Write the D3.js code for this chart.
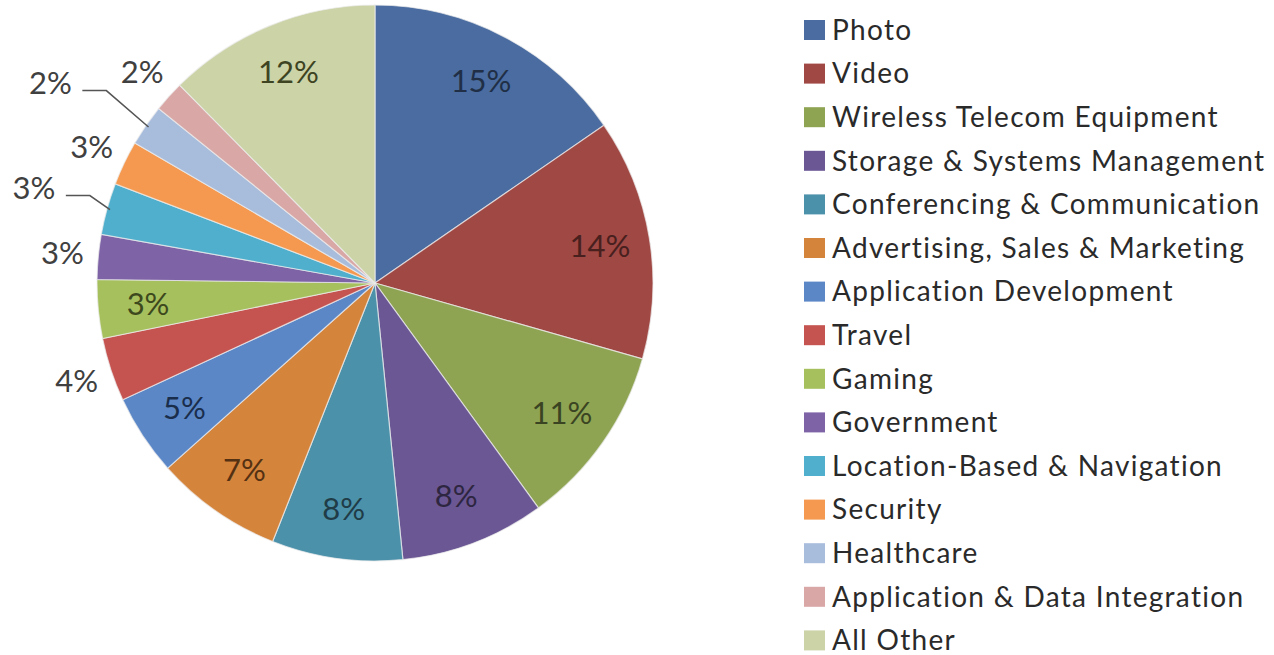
<!DOCTYPE html>
<html lang="en">
<head>
    <meta charset="UTF-8">
    <title>Apps by Category</title>
    <style>
        body { margin: 0; background: #fff; }
        .pct { font-family: Lato, sans-serif; font-size: 31px; }
        .legend-label { font-family: Lato, sans-serif; font-size: 28px; letter-spacing: 1.3px; fill: #2a2a2a; }
    </style>
</head>
<body>
    <svg width="1274" height="655"></svg>
    <script src="https://d3js.org/d3.v7.min.js"></script>
    <script>
        // categories, shares (percent) and slice colours
        const categories = [
            "Photo", "Video", "Wireless Telecom Equipment", "Storage & Systems Management",
            "Conferencing & Communication", "Advertising, Sales & Marketing", "Application Development",
            "Travel", "Gaming", "Government", "Location-Based & Navigation", "Security",
            "Healthcare", "Application & Data Integration", "All Other"
        ];
        const shares = [15.4, 14.0, 10.6, 8.4, 7.6, 7.4, 4.7, 3.7, 3.4, 2.6, 3.0, 2.6, 2.4, 1.8, 12.4];
        const colors = [
            "#4a6ca0", "#a04844", "#8ea452", "#6a5794", "#4b91aa", "#d5843c", "#5b87c7",
            "#c55350", "#a6c05e", "#7e63a6", "#4fafcd", "#f4994f", "#a8bcdc", "#d8a7a6", "#cbd3a7"
        ];
        // which slices get their label outside the pie
        const outside = ["Travel", "Government", "Location-Based & Navigation", "Security",
                         "Healthcare", "Application & Data Integration"];

        const data = categories.map((c, i) => ({name: c, value: shares[i], color: colors[i]}));

        const svg = d3.select("svg");
        const cx = 375, cy = 283, r = 278;
        const g = svg.append("g").attr("transform", `translate(${cx},${cy})`);

        const pie = d3.pie().sort(null).value(d => d.value);
        const arc = d3.arc().innerRadius(0).outerRadius(r);
        const arcs = pie(data);

        g.selectAll("path.slice")
            .data(arcs)
            .enter().append("path")
            .attr("class", "slice")
            .attr("d", arc)
            .attr("fill", d => d.data.color)
            .attr("stroke", "#eeeeee")
            .attr("stroke-opacity", 0.7)
            .attr("stroke-width", 1.2);

        const fmt = v => Math.round(v) + "%";
        const mid = d => (d.startAngle + d.endAngle) / 2;
        const polar = (a, rad) => [Math.sin(a) * rad, -Math.cos(a) * rad];
        const deep = c => { const h = d3.hsl(c); h.l = 0.2; return h.formatHex(); };
        const deg = Math.PI / 180;

        // inside labels
        const inner = arcs.filter(d => !outside.includes(d.data.name));
        g.selectAll("text.in")
            .data(inner)
            .enter().append("text")
            .attr("class", "pct in")
            .attr("x", d => polar(mid(d), r * 0.82)[0])
            .attr("y", d => polar(mid(d), r * 0.82)[1])
            .attr("text-anchor", "middle")
            .attr("dy", "0.35em")
            .attr("fill", d => deep(d.data.color))
            .text(d => fmt(d.data.value));

        // outside labels; two of them are pushed further out and get leader lines
        const push = {
            "Location-Based & Navigation": {dr: 40, da: 0},
            "Healthcare": {dr: 67, da: -3}
        };
        const outer = arcs.filter(d => outside.includes(d.data.name));
        const labelPos = d => {
            const p = push[d.data.name] || {dr: 0, da: 0};
            return polar(mid(d) + p.da * deg, r + 36 + p.dr);
        };

        outer.filter(d => push[d.data.name]).forEach(d => {
            const p0 = polar(mid(d), r - 3);
            const p2 = labelPos(d);
            const y = p2[1] + 7;
            const elbow = [Math.min(p2[0] + 56, p0[0] - 12), y];
            g.append("polyline")
                .attr("points", [p0, elbow, [p2[0] + 32, y]].map(p => p.join(",")).join(" "))
                .attr("fill", "none")
                .attr("stroke", "#555")
                .attr("stroke-width", 1.5);
        });

        g.selectAll("text.out")
            .data(outer)
            .enter().append("text")
            .attr("class", "pct out")
            .attr("x", d => labelPos(d)[0])
            .attr("y", d => labelPos(d)[1])
            .attr("text-anchor", "middle")
            .attr("dy", "0.35em")
            .attr("fill", "#404040")
            .text(d => fmt(d.data.value));

        // legend
        const legend = svg.selectAll(".legend")
            .data(data)
            .enter().append("g")
            .attr("class", "legend")
            .attr("transform", (d, i) => `translate(804, ${30 + i * 43.6})`);

        legend.append("rect")
            .attr("x", 0)
            .attr("y", -10)
            .attr("width", 21)
            .attr("height", 20)
            .attr("fill", d => d.color);

        legend.append("text")
            .attr("class", "legend-label")
            .attr("x", 28)
            .attr("dy", "0.35em")
            .text(d => d.name);
    </script>
</body>
</html>
